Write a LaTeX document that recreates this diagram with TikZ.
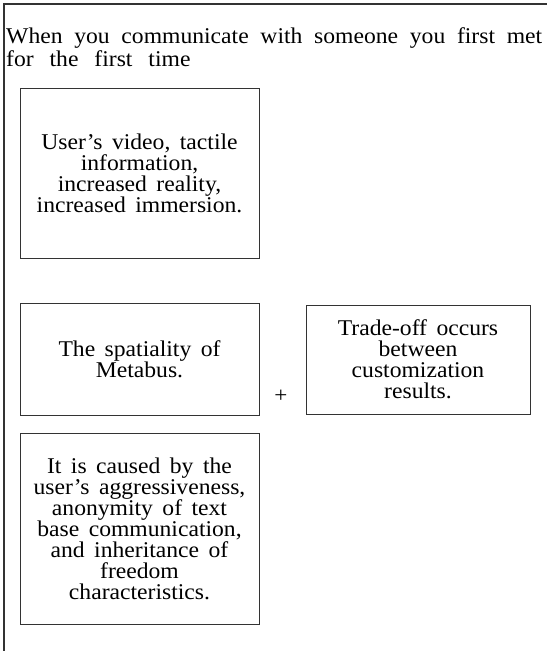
\documentclass[tikz,border=0pt]{standalone}
\usepackage{fontspec}
\setmainfont{Liberation Serif}[FakeStretch=1.05, WordSpace=1.6]
\newfontfamily\titlefont{Liberation Serif}[FakeStretch=1.05, WordSpace=2.7]
\usetikzlibrary{positioning}

\begin{document}
\begin{tikzpicture}[
    x=1pt, y=-1pt,
    % Boxes
    textbox/.style={
        draw=black!80, line width=1pt, align=center, inner sep=0pt,
        font=\fontsize{22.5}{21}\selectfont
    },
    % Labels
    title_text/.style={
        anchor=north west, inner sep=0pt, text width=536pt, align=justify,
        font=\titlefont\fontsize{22.5}{23.5}\selectfont
    },
    sign_text/.style={font=\fontsize{22}{22}\selectfont, inner sep=0pt}
]
    \useasboundingbox (0,0) rectangle (547,651);

    % --- FRAME ---
    \draw[black!80, line width=1.3pt] (4,651) -- (4,4) -- (547,4);

    % --- TITLE ---
    \node[title_text] (title) at (6,27)
        {When you communicate with someone you first met\linebreak for the first time};

    % --- BOXES ---
    \node[textbox, minimum width=239pt, minimum height=170pt] (video) at (139.5,173)
        {User's video, tactile\\information,\\increased reality,\\increased immersion.};
    \node[textbox, minimum width=239pt, minimum height=112pt] (space) at (139.5,359)
        {The spatiality of\\Metabus.};
    \node[textbox, minimum width=224pt, minimum height=109pt] (trade) at (418,359.5)
        {Trade-off occurs\\between\\customization\\results.};
    \node[textbox, minimum width=239pt, minimum height=191pt] (cause) at (139.5,528.5)
        {It is caused by the\\user's aggressiveness,\\anonymity of text\\base communication,\\and inheritance of\\freedom\\characteristics.};

    % --- SIGN ---
    \node[sign_text] (plus) at (281,396) {+};

\end{tikzpicture}
\end{document}
